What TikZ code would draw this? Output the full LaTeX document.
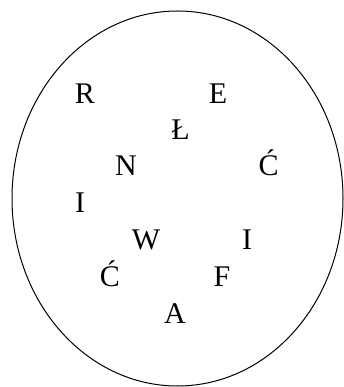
\documentclass[tikz,border=0pt]{standalone}
\usepackage{fontspec}
\setmainfont{Liberation Serif}
\begin{document}
\begin{tikzpicture}[x=1pt,y=1pt,
  letter/.style={anchor=base,inner sep=0pt,font=\fontsize{30}{33}\selectfont}]
\useasboundingbox (0,0) rectangle (343,387);
\draw[line width=1pt] (177.5,188.5) ellipse [x radius=165.5, y radius=187.5];
\node[letter] (r) at (85,283.7) {R};
\node[letter] (e) at (218,283.7) {E};
\node[letter] (l) at (180.5,247) {Ł};
\node[letter] (n) at (126,211) {N};
\node[letter] (c1) at (268.7,211) {Ć};
\node[letter] (i1) at (80,174.3) {I};
\node[letter] (w) at (146,137) {W};
\node[letter] (i2) at (247,137) {I};
\node[letter] (c2) at (110,100.3) {Ć};
\node[letter] (f) at (222,100.3) {F};
\node[letter] (a) at (175,63) {A};
\end{tikzpicture}
\end{document}
